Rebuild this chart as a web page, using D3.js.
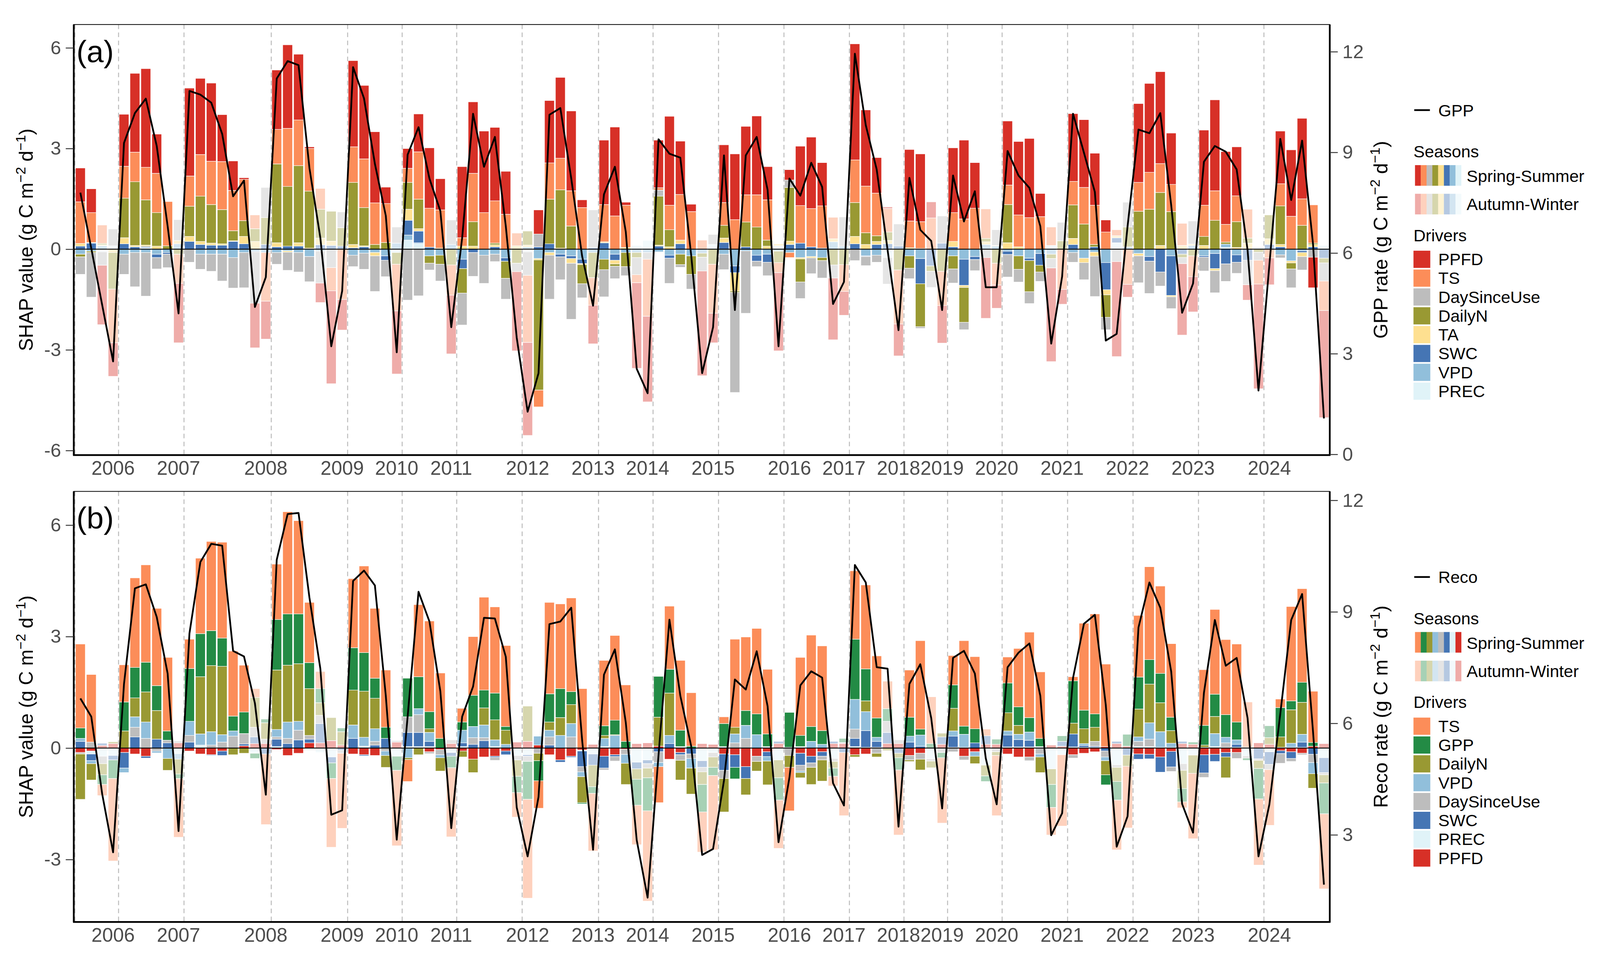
<!DOCTYPE html>
<html>
<head>
<meta charset="utf-8">
<script src="https://cdn.jsdelivr.net/npm/d3@7"></script>
<style>
  html, body { margin: 0; padding: 0; background: #fff; overflow: hidden; }
  #chart { display: block; width: 100vw; height: 100vh; }
  svg text { font-family: "Liberation Sans", Arial, sans-serif; }
</style>
</head>
<body>
<svg id="chart" viewBox="0 0 4186 2474" preserveAspectRatio="xMidYMid meet"></svg>
<script>
// ---- data ---------------------------------------------------------------
const nMonths = 115;  // monthly bars, only the months that have data

const yearLabels = ['2006', '2007', '2008', '2009', '2010', '2011', '2012', '2013', '2014', '2015',
  '2016', '2017', '2018', '2019', '2020', '2021', '2022', '2023', '2024'];
const yearLabelAt = [3, 9, 17, 24, 29, 34, 41, 47, 52, 58, 65, 70, 75, 79, 84, 90, 96, 102, 109];
const yearLineAt = [0, 4, 10, 18, 25, 30, 35, 41, 48, 53, 59, 65, 71, 76, 80, 85, 91, 97, 103, 109];

// months that belong to Autumn-Winter, everything else is Spring-Summer
const autumnWinter = [2, 3, 9, 16, 17, 22, 23, 24, 29, 34, 40, 41, 47, 51, 52, 57, 58, 64, 69, 70,
  74, 75, 78, 79, 83, 84, 89, 90, 95, 96, 101, 102, 107, 108, 109, 114];

// (a) GPP
const gppDrivers = ['PPFD', 'TS', 'DaySinceUse', 'DailyN', 'TA', 'SWC', 'VPD', 'PREC'];
const gppPPFD = [
  1.01, 0.71, -1.77, -1.0, 1.55, 2.35, 2.94, 1.17, 0, -1.77,
  2.62, 2.27, 2.33, 1.4, 0.88, 0.05, -1.33, -1.13, 1.77, 2.49,
  1.96, 0.05, -0.58, -2.77, -0.91, 2.57, 2.19, 2.12, 0.49, -1.88,
  0.59, 1.13, 1.8, 0.93, -1.75, 2.12, 2.13, 2.43, 2.19, 1.28,
  -2.36, -2.77, 0.72, 1.86, 2.41, 2.38, 0.23, -1.15, 1.92, 2.65,
  0.09, -2.55, -2.55, 1.42, 2.65, 1.59, 0.22, -3.12, -0.88, 1.72,
  1.96, 2.04, 2.35, 0.99, -2.33, 0.31, 1.77, 2.13, 1.29, -1.84,
  -0.71, 3.46, 2.27, 1.06, 0.05, -0.95, 2.13, 2.02, 0.48, -1.12,
  1.93, 2.35, 1.36, -1.81, -0.69, 1.91, 2.19, 2.36, 0.69, -2.79,
  -0.44, 2.02, 2.02, 1.55, 0.36, -2.83, -0.38, 2.35, 2.65, 2.74,
  1.53, -2.13, -1.05, 2.24, 2.71, 2.17, 1.46, -0.46, -3.12, -0.8,
  1.57, 1.98, 2.4, -0.91, -3.19];
const gppTS = [
  1.24, 0.89, 0.55, -1.6, 0.95, 0.88, 0.97, 1.17, 1.32, -0.87,
  0.9, 1.24, 1.29, 1.43, 1.2, 1.23, 0.41, -1.45, 1.03, 1.73,
  1.36, 1.27, 0.62, -0.69, -1.5, 1.06, 1.45, 1.24, 1.16, -1.39,
  0.42, 1.41, 1.16, 1.14, -0.9, 0.25, 1.44, 1.09, 1.26, 1.04,
  0.38, -2.0, -0.5, 1.08, 0.94, 1.05, 1.24, -0.82, 1.11, 0.99,
  1.26, -0.24, -1.7, 0.07, 0.73, 1.36, 1.12, 0.27, -1.46, 0.68,
  0.88, 0.81, 0.96, 1.2, -0.3, -0.15, 1.12, 1.14, 1.26, 0.64,
  -0.8, 1.27, 1.39, 1.27, 0.7, -1.61, 0.8, 0.8, 0.93, -1.02,
  0.86, 0.9, 1.22, 0.88, -0.65, 0.58, 0.95, 0.94, 0.97, 0.55,
  -1.2, 0.7, 1.09, 1.17, 0.51, 0.18, -1.05, 0.86, 1.1, 0.86,
  0.81, 0.66, -0.62, 0.93, 0.88, 0.53, 0.77, 0.86, -0.71, -0.26,
  0.66, 0.98, 0.79, 1.14, -0.88];
const gppDaySinceUse = [
  -0.52, -1.33, -0.4, 0.5, -0.6, -1.02, -1.3, -0.34, -0.4, 0.62,
  -0.39, -0.45, -0.51, -0.8, -0.91, -1.05, -1.53, 0.9, -0.35, -0.54,
  -0.58, -0.75, -0.95, -0.55, 0.47, -0.34, -0.48, -1.06, -0.49, 0.48,
  -1.52, -1.39, -0.2, -0.5, 0.73, -0.95, -0.71, -0.84, -0.22, -0.62,
  -0.25, -0.7, 0.38, -1.31, -0.68, -1.67, -0.42, 1.12, -0.81, -0.37,
  -0.27, -0.51, -0.2, 0.18, -0.75, -0.08, -0.44, -0.41, 0.3, -0.46,
  -2.98, -1.86, -0.16, -0.4, 0, 0.22, -0.49, -0.47, -0.52, -0.39,
  0.87, -0.34, -0.27, -0.21, -0.79, 0.66, -0.31, -0.05, -0.48, 0.81,
  -0.42, -0.22, -0.33, -0.25, 0.47, -0.67, -0.38, -0.35, -0.28, -0.28,
  0.55, -0.29, -0.51, -1.2, -0.37, -0.37, 0.74, -0.8, -0.96, -0.42,
  -0.35, -0.18, 0.69, -0.41, -0.66, -0.52, -0.33, -0.73, -0.24, 0,
  -0.09, -0.56, -0.4, -0.24, -0.54];
const gppDailyN = [
  -0.08, -0.04, 0.04, -1.09, 1.18, 1.9, 1.35, 1.0, 0.1, -0.15,
  0.9, 1.35, 1.15, 1.02, 0.3, 0.47, 0.38, 0.8, 2.35, 1.78,
  2.3, 1.7, 0.86, 0.89, 0.55, 1.85, 1.14, 0.14, 0.2, -0.35,
  0.8, 0.88, -0.22, -0.27, -0.47, -0.73, 0.73, 0, 0.05, -0.51,
  -0.42, 0.42, -3.88, 1.33, 1.74, 0.69, -0.57, -0.75, -0.31, -0.07,
  -0.42, -0.15, 0, 1.46, 0.51, -0.31, -0.55, -0.12, -0.45, 0.38,
  -0.04, 0.74, 0.66, 0.18, -0.34, 1.6, -0.69, 0, -0.09, -0.47,
  -0.46, 1.01, 0.35, 0.17, 0.25, -0.62, -0.37, -1.28, -0.16, -0.66,
  -0.39, -1.04, 0, 0.1, -0.42, 1.14, -0.4, -0.93, -0.2, -0.13,
  0.25, 1.0, 0.75, 0.07, -0.67, 0, 0.59, 1.13, 1.19, 1.58,
  1.12, -0.1, -0.2, 0.27, 0.86, 0.06, 0.77, 0.15, -0.09, 0.71,
  1.15, -0.18, 0.71, 0.04, -0.14];
const gppTA = [
  0.08, 0.02, 0.03, -0.1, 0.18, 0.04, 0.04, 0.09, 0, 0.1,
  0.15, 0.09, 0.06, 0.04, 0.02, 0.22, 0.23, 0, 0.12, -0.04,
  0.1, 0.03, 0.2, 0.13, 0, 0.1, 0.03, -0.1, 0, 0,
  0.33, 0.07, 0, 0.03, 0, 0.09, 0.09, 0, 0.06, 0,
  0.1, 0.05, -0.04, -0.08, 0.03, -0.14, -0.03, 0, 0.03, -0.11,
  0.05, 0, 0, 0.03, 0.07, 0.11, 0, 0, 0, 0.13,
  -0.55, 0, 0, 0.09, 0.06, 0.1, -0.04, -0.04, 0, 0.09,
  0, 0.22, 0.14, 0.09, 0.1, 0, 0.04, 0.02, 0, 0,
  0.16, -0.06, 0, 0.08, 0.02, 0.19, 0.07, 0, 0, 0,
  0, 0.18, -0.13, -0.12, -0.15, 0.06, 0, -0.07, 0, 0.11,
  -0.04, 0.11, 0.04, 0.11, -0.06, 0, 0.05, 0.18, 0, 0.17,
  0.07, -0.06, -0.12, 0.07, 0];
const gppSWC = [
  0.09, 0.18, 0, 0, 0.16, 0.07, 0.03, -0.1, -0.05, 0,
  0.23, 0.14, 0.12, 0.12, 0.23, 0.16, 0, 0.14, 0.07, 0.09,
  0.09, 0, 0.13, 0.11, 0.09, 0.04, 0.07, 0, -0.13, 0,
  0.44, 0.35, 0.06, 0, 0, -0.28, -0.1, 0, 0.07, -0.1,
  0, 0, 0.07, 0.16, -0.08, -0.08, -0.13, 0.05, 0.19, -0.18,
  0, 0, 0, 0.09, -0.09, 0.16, 0, 0, 0, 0.2,
  -0.2, 0.07, -0.18, -0.24, 0, 0.14, 0.18, 0.07, 0.03, 0,
  0, 0.16, -0.02, 0.14, 0.16, 0.09, 0, -0.75, -0.5, 0.18,
  0.07, -0.78, -0.09, 0, 0, -0.1, 0, -0.07, -0.35, 0,
  0, 0.14, 0, 0.07, -0.81, 0.15, 0, 0, -0.14, -0.68,
  -1.18, -0.15, 0, -0.04, -0.45, -0.44, -0.22, -0.33, 0, 0.14,
  0.07, 0, -0.05, 0.07, -0.27];
const gppVPD = [
  -0.15, -0.06, 0.1, 0, -0.15, -0.1, -0.1, -0.15, -0.1, 0.16,
  0, -0.15, -0.15, -0.15, -0.25, -0.1, -0.08, -0.1, -0.1, -0.05,
  -0.1, -0.22, -0.06, 0, 0, -0.18, -0.12, -0.1, -0.2, 0.18,
  0.15, 0.03, -0.2, -0.18, 0.14, -0.3, 0, -0.18, -0.15, -0.26,
  0, 0.07, -0.28, -0.1, -0.15, -0.2, -0.3, -0.1, -0.3, -0.15,
  -0.1, -0.1, -0.1, -0.08, -0.18, -0.15, -0.2, -0.12, 0, -0.15,
  -0.5, -0.05, -0.18, -0.15, -0.06, -0.1, -0.25, -0.22, -0.25, 0.22,
  0.09, 0, -0.2, -0.18, 0, 0, -0.2, -0.28, 0, 0,
  -0.2, -0.3, -0.22, 0.14, 0.09, -0.06, -0.2, -0.27, -0.13, -0.15,
  0, -0.1, -0.27, -0.09, -0.4, 0, 0.07, -0.13, -0.22, 0,
  -0.2, 0, 0.11, -0.2, -0.13, 0.1, -0.17, 0, 0, 0,
  -0.17, -0.35, -0.05, 0, 0];
const gppPREC = [
  0, 0, -0.08, 0.1, 0, 0, 0.05, 0, 0, 0,
  0, 0, 0, 0, 0, 0, 0, 0, 0, 0,
  0, 0, 0, 0, 0, 0, 0, 0, 0, -0.1,
  0.27, 0.16, 0, 0, 0, 0, 0, 0, 0, 0,
  0, -0.08, 0, 0, 0, 0, 0, 0, 0, 0,
  0, 0.11, 0.26, 0, 0, 0, 0, 0, 0.14, 0,
  0, 0, 0, 0, 0.1, 0, 0, 0, 0, 0,
  0, 0, 0, 0, -0.25, 0, 0, 0, 0, 0,
  0, 0, 0, 0, 0, 0, 0, 0, 0, 0.11,
  0, 0, 0, 0, 0, 0.19, 0, 0, 0, 0,
  0, 0, 0, 0, 0, 0.05, 0, 0, 0.05, 0,
  0, 0, 0, 0, 0.11];
const gppRate = [
  7.8, 6.14, 4.45, 2.77, 9.28, 10.17, 10.6, 9.19, 6.8, 4.2,
  10.83, 10.72, 10.48, 9.55, 7.69, 8.16, 4.39, 5.28, 11.2, 11.72,
  11.6, 8.53, 6.45, 3.22, 4.87, 11.54, 10.61, 8.66, 7.11, 3.04,
  8.93, 9.75, 8.22, 7.25, 3.79, 6.45, 10.15, 8.57, 9.46, 6.8,
  3.48, 1.27, 2.42, 10.12, 10.32, 8.22, 5.9, 4.43, 7.75, 8.57,
  6.63, 2.55, 1.82, 9.39, 8.96, 8.84, 5.92, 2.42, 3.79, 8.91,
  4.3, 8.91, 9.46, 7.88, 3.22, 8.22, 7.71, 8.69, 7.97, 4.48,
  5.14, 11.94, 9.81, 8.49, 6.09, 3.7, 8.24, 6.69, 6.36, 4.3,
  8.31, 6.94, 7.84, 4.98, 4.98, 9.04, 8.31, 7.94, 6.8, 3.3,
  5.3, 10.15, 8.99, 7.82, 3.39, 3.59, 6.8, 9.68, 9.57, 10.17,
  7.42, 4.22, 5.09, 8.72, 9.19, 9.02, 8.49, 6.09, 1.9, 5.65,
  9.4, 7.58, 9.35, 6.27, 1.07];

// (b) Reco
const recoDrivers = ['TS', 'GPP', 'DailyN', 'VPD', 'DaySinceUse', 'SWC', 'PREC', 'PPFD'];
const recoTS = [
  2.26, 1.82, -0.3, -2.22, 1.0, 2.41, 2.62, 2.08, 1.98, -1.58,
  0.79, 2.03, 2.4, 2.58, 1.75, 1.26, 0.24, -1.9, 1.49, 2.75,
  2.51, 1.62, 0.46, -1.85, -2.02, 1.86, 2.33, 1.88, 1.54, -2.03,
  -0.59, 1.94, 2.44, 1.76, -1.86, 0.37, 1.58, 2.5, 2.32, 2.18,
  -0.66, -2.66, -0.74, 2.46, 2.28, 2.52, 1.6, -1.55, 1.76, 2.28,
  1.52, -1.06, -2.43, -0.97, 1.7, 1.88, 1.44, -1.08, -2.0, 0.18,
  2.37, 1.98, 2.3, 1.74, -1.3, -1.17, 2.1, 2.46, 2.28, -0.26,
  -1.7, 1.84, 2.26, 1.67, 0.74, -1.75, 1.27, 2.38, 1.26, -1.76,
  0.79, 2.3, 1.94, 0.18, -1.62, 0.7, 1.57, 2.3, 1.79, -0.74,
  -1.92, 0.11, 2.34, 2.69, 2.22, -1.34, -1.66, 1.66, 2.5, 2.35,
  1.98, -0.16, -1.76, 1.5, 2.28, 2.02, 2.1, 1.22, -1.78, -1.5,
  0.23, 2.54, 2.52, 1.38, -2.02];
const recoGPP = [
  0.28, 0, -0.26, -0.5, 0.78, 0.82, 0.8, 0.67, 0.25, -0.12,
  1.42, 1.16, 0.94, 0.76, 0.4, 0.58, -0.14, 0.1, 1.36, 1.38,
  1.34, 0.7, 0.38, -0.42, 0.1, 1.14, 1.04, 0.54, 0.3, -0.38,
  1.04, 0.86, 0.46, 0.26, -0.31, 0.22, 0.84, 0.48, 0.72, 0.1,
  -0.44, -1.02, -0.54, 0.76, 0.78, 0.35, -0.03, -0.18, 0.26, 0.39,
  0.18, -0.7, -0.89, 1.1, 0.64, 0.44, 0.05, -0.74, -0.22, 0.62,
  -0.31, 0.4, 0.56, 0.34, -0.6, 0.94, 0.3, 0.4, 0.37, -0.22,
  0.11, 1.62, 0.86, 0.52, 0.34, -0.33, 0.51, 0.16, 0.12, -0.14,
  0.63, 0.22, 0.38, -0.15, 0.14, 0.8, 0.5, 0.39, 0.22, -0.62,
  0.15, 1.14, 0.5, 0.36, -0.27, -0.5, 0.32, 0.86, 0.66, 0.79,
  0.36, -0.36, 0.06, 0.53, 0.6, 0.61, 0.48, -0.06, -0.82, 0.32,
  0.79, 0.24, 0.54, 0.1, -0.83];
const recoDailyN = [
  -1.22, -0.44, -0.3, 0.05, 0.46, 0.51, 0.81, 0.77, -0.32, -0.4,
  0, 1.54, 1.78, 1.84, -0.18, -0.14, 0.8, 0.44, 1.6, 1.53,
  1.55, 1.26, 0.34, 0.62, 0.36, 0.94, 1.24, 0.82, -0.32, 0,
  -0.05, -0.18, 0.1, -0.36, 0, -0.16, -0.36, 0.46, 0.54, 0.38,
  -0.44, 0.95, -0.2, 0.22, 0.48, 0.51, -0.7, -0.58, 0.08, 0.02,
  -0.57, -0.28, -0.26, 0.78, 1.14, -0.53, -0.7, -0.34, -0.28, -0.9,
  0.18, -0.44, -0.26, -0.64, -0.48, -0.32, -0.14, -0.46, -0.57, -0.18,
  0, -0.06, 0.29, -0.1, -0.07, -0.12, -0.04, -0.29, -0.18, 0.1,
  0.61, 0, -0.2, -0.29, -0.1, 0.49, 0.24, 0, -0.42, -0.42,
  0, 0.29, 0.4, 0.38, -0.38, -0.38, -0.3, 0.75, 1.04, 0.78,
  0.34, -0.49, -0.49, 0.06, 0.46, -0.56, 0, 0, -0.22, 0.18,
  0.28, 0.9, 0.86, -0.39, -0.22];
const recoVPD = [
  0.08, -0.08, 0, 0, -0.12, 0.28, 0.44, -0.05, -0.28, -0.15,
  0.38, 0.3, 0.36, 0.2, 0.14, 0, 0, 0, 0.2, 0.44,
  0.24, 0, 0, 0, 0, 0.36, 0.24, 0.34, -0.12, 0,
  -0.26, 0.16, 0.24, -0.08, 0, 0.34, 0.3, 0.34, 0.18, 0.1,
  0, 0, 0.24, 0.18, 0.34, 0.36, -0.13, 0, 0.22, 0.34,
  -0.24, 0, 0, -0.11, 0.22, 0, -0.26, 0, 0, 0,
  0.24, 0.35, 0.36, -0.12, 0, 0, -0.04, 0.18, 0.1, 0,
  0, 0.8, 0.51, 0.11, 0, 0, 0.16, 0.3, 0, 0,
  0.14, 0.35, -0.12, 0, 0, 0.11, 0.14, 0.22, -0.08, 0,
  0, 0, 0.05, 0, -0.1, 0, 0, 0.12, 0.44, 0.42,
  0.11, 0, 0, 0, 0.35, 0.15, 0.12, 0, 0, 0,
  0, 0.11, 0.21, -0.3, 0];
const recoDaySinceUse = [
  -0.04, 0.16, -0.2, 0, 0, 0.26, 0.26, -0.08, 0.07, 0.05,
  0.18, 0, 0.08, 0.16, 0.32, 0.28, 0.26, 0.12, 0.06, 0.14,
  0.26, 0.1, 0.22, 0, -0.08, 0, 0, 0.1, -0.08, 0.04,
  0.42, 0.48, -0.05, -0.14, 0.1, 0, 0.18, 0.08, -0.08, 0,
  -0.12, -0.14, -0.14, 0.22, 0, 0.3, -0.14, 0, -0.05, -0.12,
  -0.14, 0, -0.12, -0.29, 0, -0.15, -0.12, -0.12, -0.12, -0.22,
  0.14, 0.26, -0.14, 0, 0, -0.2, -0.16, -0.12, -0.1, -0.08,
  0.03, 0.25, 0, -0.14, 0.3, 0.1, -0.12, -0.16, -0.06, -0.12,
  -0.1, -0.1, 0, 0, -0.1, 0, 0, -0.1, -0.16, 0,
  0, -0.09, 0, 0.13, -0.16, -0.07, 0, 0.14, 0.2, 0,
  -0.12, -0.18, 0, -0.12, 0, 0.12, -0.16, -0.06, -0.04, -0.14,
  -0.26, -0.08, -0.04, -0.22, -0.06];
const recoSWC = [
  0.18, -0.18, 0.06, -0.12, -0.42, 0.3, -0.05, 0.24, 0.14, 0,
  0.16, 0, -0.02, -0.12, 0, 0.05, 0.18, -0.16, 0.2, 0.12,
  0.22, 0.1, 0.52, -0.16, -0.06, 0.26, -0.03, 0.08, 0.26, 0,
  0.38, 0.38, 0.14, 0, -0.1, 0.1, 0.1, 0.2, -0.03, -0.1,
  0, -0.04, 0, 0.08, -0.06, -0.03, -0.42, -0.3, -0.32, -0.05,
  0, -0.18, -0.1, -0.1, 0.12, -0.06, -0.16, -0.18, 0, -0.44,
  -0.34, -0.32, 0, -0.13, 0.06, 0.02, -0.32, -0.18, -0.12, 0.06,
  -0.12, 0.22, 0.45, 0.16, 0.3, -0.14, 0.16, 0.05, 0, 0.2,
  0.3, 0, 0.14, 0.23, 0, 0.32, 0.2, 0.18, 0, 0,
  0.13, 0.35, 0.05, 0.03, -0.08, 0.06, -0.19, -0.14, -0.12, -0.41,
  -0.42, 0.06, 0, -0.49, -0.19, -0.12, 0.08, 0, -0.29, -0.34,
  -0.08, -0.18, 0.14, -0.17, -0.4];
const recoPREC = [
  0, -0.08, -0.22, -0.2, 0, 0, 0, 0, 0, -0.15,
  0, 0.08, 0, 0, 0, 0, -0.14, 0, 0.04, 0,
  0, 0, -0.12, -0.24, 0, 0, 0.05, 0, 0, -0.22,
  0.04, 0.04, 0.04, 0, -0.12, 0.04, 0, 0, 0.04, 0,
  -0.2, -0.18, 0, 0, 0, 0, -0.03, -0.16, 0.04, 0,
  0, -0.38, -0.32, 0, 0, 0.04, 0, -0.34, -0.12, 0.04,
  0, 0, 0, 0.04, -0.32, 0, 0.04, 0, 0, -0.28,
  0, 0.04, 0.02, 0.02, 0, 0, 0, 0, -0.29, 0,
  0.02, 0.02, 0, -0.46, 0, 0.03, 0.03, 0.03, 0.04, -0.56,
  -0.18, 0.03, 0.02, 0.02, 0, -0.45, 0, 0.04, 0.04, 0.02,
  0.02, -0.42, -0.19, 0.02, 0.04, 0.02, 0.02, -0.21, 0, -0.1,
  0.02, 0.02, 0.02, 0, -0.26];
const recoPPFD = [
  -0.12, -0.08, 0.07, 0.12, -0.12, -0.16, -0.22, 0, 0, 0.14,
  -0.08, -0.16, -0.18, -0.08, 0, 0.06, 0.12, 0.12, -0.04, -0.2,
  -0.14, 0.14, 0.14, 0.2, 0.08, -0.16, -0.18, -0.2, 0, 0.16,
  0, 0, -0.1, -0.04, 0.12, -0.08, -0.3, -0.24, -0.22, -0.08,
  0.16, 0.18, 0.08, -0.18, -0.32, -0.22, -0.05, 0.1, -0.22, -0.18,
  -0.03, 0.12, 0.14, 0.05, -0.3, -0.12, 0, 0.12, 0.1, -0.16,
  -0.18, -0.5, -0.22, -0.1, 0.12, 0, -0.14, -0.22, -0.1, 0.12,
  0.12, -0.18, -0.16, 0, 0.12, 0.12, -0.2, -0.14, 0, 0.1,
  0, -0.22, -0.1, 0.1, 0.1, -0.16, -0.24, -0.24, 0, 0.08,
  0.05, -0.18, -0.14, -0.1, 0.04, 0.12, 0.05, -0.16, -0.17, -0.24,
  -0.09, 0.12, 0.1, -0.18, -0.17, -0.12, -0.12, 0.02, 0.14, 0.1,
  -0.07, -0.1, -0.14, 0.05, 0.12];
const recoRate = [
  6.67, 6.18, 4.1, 2.53, 7.06, 9.63, 9.74, 8.86, 7.34, 3.1,
  8.42, 10.34, 10.83, 10.78, 7.95, 7.8, 6.54, 4.08, 10.4, 11.63,
  11.66, 9.38, 7.47, 3.54, 3.66, 9.83, 10.11, 9.71, 6.74, 2.87,
  6.18, 9.54, 8.74, 6.86, 3.18, 6.18, 6.99, 8.84, 8.82, 7.79,
  3.74, 2.42, 4.02, 8.67, 8.74, 9.11, 5.54, 2.6, 7.31, 7.99,
  6.02, 2.86, 1.31, 5.14, 8.79, 6.74, 5.38, 2.46, 2.62, 4.46,
  7.18, 6.91, 7.94, 6.46, 2.8, 4.54, 7.02, 7.4, 7.23, 4.39,
  3.79, 10.26, 9.79, 7.51, 7.47, 3.22, 7.06, 7.59, 6.14, 3.71,
  7.76, 7.95, 7.34, 5.06, 3.82, 7.51, 7.9, 8.15, 6.74, 2.99,
  3.58, 7.22, 8.68, 8.92, 6.5, 2.68, 3.5, 8.58, 9.79, 9.11,
  7.39, 3.83, 3.06, 6.82, 8.78, 7.55, 7.76, 6.14, 2.42, 3.82,
  6.26, 8.78, 9.48, 5.78, 1.66];

// ---- styling ------------------------------------------------------------
const driverColour = {
  PPFD: '#d73027', TS: '#fc8d59', DaySinceUse: '#bdbdbd', DailyN: '#999933',
  TA: '#fee090', SWC: '#4575b4', VPD: '#91bfdb', PREC: '#e0f3f8', GPP: '#238b45'
};
const lighten = (c) => d3.interpolateRgb('#ffffff', c)(0.4);  // Autumn-Winter shade
const isAW = new Set(autumnWinter);

const plotLeft = 193;
const plotRight = 3479;
const tickGrey = '#4d4d4d';

const svg = d3.select('#chart');

/**
 * Draw one panel: diverging stacked SHAP bars plus the flux line on a second axis
 * @param {Object} p panel config
 */
function drawPanel (p) {
  const { top, bottom } = p;
  const g = svg.append('g');

  const x = d3.scaleBand()
    .domain(d3.range(nMonths))
    .range([196, 3478])
    .paddingInner(0.1)
    .paddingOuter(0.05);
  const bw = x.bandwidth();
  const gap = (x.step() - bw) / 2;
  const y = d3.scaleLinear().domain(p.yDomain).range([bottom, top]);
  const y2 = d3.scaleLinear().domain(p.y2Domain).range([bottom, top]);

  // rows for d3.stack, built from the series arrays
  const rows = d3.range(nMonths).map((i) => {
    const r = { i };
    p.drivers.forEach((d, k) => { r[d] = p.series[k][i]; });
    return r;
  });
  // ggplot puts the first level furthest from zero, so stack in reverse
  const layers = d3.stack()
    .keys(p.drivers.slice().reverse())
    .offset(d3.stackOffsetDiverging)(rows);

  const clipId = 'clip-' + p.name;
  g.append('clipPath').attr('id', clipId)
    .append('rect')
    .attr('x', plotLeft).attr('y', top)
    .attr('width', plotRight - plotLeft).attr('height', bottom - top);

  const plot = g.append('g').attr('clip-path', `url(#${clipId})`);

  layers.forEach((layer) => {
    const base = driverColour[layer.key];
    plot.append('g')
      .selectAll('rect')
      .data(layer.filter((d) => d[1] !== d[0]))
      .join('rect')
      .attr('x', (d) => x(d.data.i))
      .attr('y', (d) => y(Math.max(d[0], d[1])))
      .attr('width', bw)
      .attr('height', (d) => Math.abs(y(d[0]) - y(d[1])))
      .attr('fill', (d) => isAW.has(d.data.i) ? lighten(base) : base)
      .attr('stroke', '#fff')
      .attr('stroke-width', 1.2);
  });

  // year separators
  plot.append('g')
    .selectAll('line')
    .data(yearLineAt)
    .join('line')
    .attr('x1', (k) => x(k) - gap)
    .attr('x2', (k) => x(k) - gap)
    .attr('y1', top)
    .attr('y2', bottom)
    .attr('stroke', '#bdbdbd')
    .attr('stroke-width', 2.6)
    .attr('stroke-dasharray', '12,9');

  plot.append('line')
    .attr('x1', plotLeft).attr('x2', plotRight)
    .attr('y1', y(0)).attr('y2', y(0))
    .attr('stroke', '#000').attr('stroke-width', 2.4);

  const line = d3.line()
    .x((v, i) => x(i) + bw / 2)
    .y((v) => y2(v));
  plot.append('path')
    .datum(p.rate)
    .attr('d', line)
    .attr('fill', 'none')
    .attr('stroke', '#000')
    .attr('stroke-width', 4.6)
    .attr('stroke-linejoin', 'round');

  // frame + axis lines
  g.append('rect')
    .attr('x', plotLeft).attr('y', top)
    .attr('width', plotRight - plotLeft).attr('height', bottom - top)
    .attr('fill', 'none').attr('stroke', '#000').attr('stroke-width', 2);
  [[plotLeft, top, plotLeft, bottom], [plotRight, top, plotRight, bottom],
    [plotLeft - 2, bottom, plotRight + 2, bottom]].forEach(([x1, y1, x2, y2_]) => {
    g.append('line')
      .attr('x1', x1).attr('y1', y1).attr('x2', x2).attr('y2', y2_)
      .attr('stroke', '#000').attr('stroke-width', 4.6);
  });

  const styleAxis = (sel) => {
    sel.select('.domain').remove();
    sel.selectAll('.tick line').attr('stroke', '#333').attr('stroke-width', 2.4);
    sel.selectAll('.tick text')
      .attr('fill', tickGrey)
      .attr('font-size', 50)
      .attr('font-family', '"Liberation Sans", Arial, sans-serif');
  };

  g.append('g')
    .attr('transform', `translate(${plotLeft},0)`)
    .call(d3.axisLeft(y).tickValues(p.yTicks).tickSize(21).tickPadding(12).tickFormat((d) => String(d)))
    .call(styleAxis);
  g.append('g')
    .attr('transform', `translate(${plotRight},0)`)
    .call(d3.axisRight(y2).tickValues(p.y2Ticks).tickSize(21).tickPadding(12).tickFormat((d) => String(d)))
    .call(styleAxis);

  // year labels
  g.append('g')
    .selectAll('text')
    .data(yearLabels)
    .join('text')
    .attr('x', (t, k) => x(yearLabelAt[k]) + bw / 2)
    .attr('y', bottom + 52)
    .attr('text-anchor', 'middle')
    .attr('font-size', 51)
    .attr('fill', tickGrey)
    .text((t) => t);

  // axis titles with superscripts
  const unitTitle = (cx, label) => {
    const t = g.append('text')
      .attr('transform', `translate(${cx},${(top + bottom) / 2}) rotate(-90)`)
      .attr('text-anchor', 'middle')
      .attr('font-size', 51)
      .attr('fill', '#000');
    t.append('tspan').text(label + ' (g C m');
    t.append('tspan').attr('dy', -20).attr('font-size', 36).text('\u22122');
    t.append('tspan').attr('dy', 20).text(' d');
    t.append('tspan').attr('dy', -20).attr('font-size', 36).text('\u22121');
    t.append('tspan').attr('dy', 20).text(')');
  };
  unitTitle(86, 'SHAP value');
  unitTitle(3630, p.rateTitle);

  g.append('text')
    .attr('x', 200)
    .attr('y', top + 98)
    .attr('font-size', 80)
    .attr('fill', '#000')
    .text(p.tag);

  drawLegend(g, p);
}

/**
 * Legend: line key, season swatches, driver keys
 */
function drawLegend (g, p) {
  const L = g.append('g')
    .attr('transform', `translate(0,${p.top})`)
    .attr('font-size', 44)
    .attr('fill', '#000');

  L.append('line')
    .attr('x1', 3700).attr('x2', 3741)
    .attr('y1', 224).attr('y2', 224)
    .attr('stroke', '#000').attr('stroke-width', 4.6);
  L.append('text').attr('x', 3763).attr('y', 240).text(p.lineName);

  L.append('text').attr('x', 3698).attr('y', 348).text('Seasons');
  const stripeW = 121 / p.drivers.length;
  [['Spring-Summer', false, 368, 412], ['Autumn-Winter', true, 443, 486]]
    .forEach(([label, light, ky, ty]) => {
      L.append('g')
        .selectAll('rect')
        .data(p.drivers)
        .join('rect')
        .attr('x', (d, k) => 3702 + k * stripeW)
        .attr('y', ky)
        .attr('width', stripeW + 0.3)
        .attr('height', 54)
        .attr('fill', (d) => light ? lighten(driverColour[d]) : driverColour[d]);
      L.append('text').attr('x', 3837).attr('y', ty).text(label);
    });

  L.append('text').attr('x', 3698).attr('y', 567).text('Drivers');
  const keys = L.append('g')
    .selectAll('g')
    .data(p.drivers)
    .join('g')
    .attr('transform', (d, k) => `translate(3698,${592 + k * 49.3})`);
  keys.append('rect')
    .attr('width', 44).attr('height', 45)
    .attr('fill', (d) => driverColour[d]);
  keys.append('text')
    .attr('x', 65).attr('y', 38)
    .text((d) => d);
}

drawPanel({
  name: 'gpp',
  tag: '(a)',
  top: 37,
  bottom: 1164,
  yDomain: [-6.137, 6.695],
  y2Domain: [-0.023, 12.81],
  yTicks: [-6, -3, 0, 3, 6],
  y2Ticks: [0, 3, 6, 9, 12],
  drivers: gppDrivers,
  series: [gppPPFD, gppTS, gppDaySinceUse, gppDailyN, gppTA, gppSWC, gppVPD, gppPREC],
  rate: gppRate,
  rateTitle: 'GPP rate',
  lineName: 'GPP'
});

drawPanel({
  name: 'reco',
  tag: '(b)',
  top: 1259,
  bottom: 2386,
  yDomain: [-4.681, 6.907],
  y2Domain: [0.655, 12.24],
  yTicks: [-3, 0, 3, 6],
  y2Ticks: [3, 6, 9, 12],
  drivers: recoDrivers,
  series: [recoTS, recoGPP, recoDailyN, recoVPD, recoDaySinceUse, recoSWC, recoPREC, recoPPFD],
  rate: recoRate,
  rateTitle: 'Reco rate',
  lineName: 'Reco'
});
</script>
</body>
</html>
